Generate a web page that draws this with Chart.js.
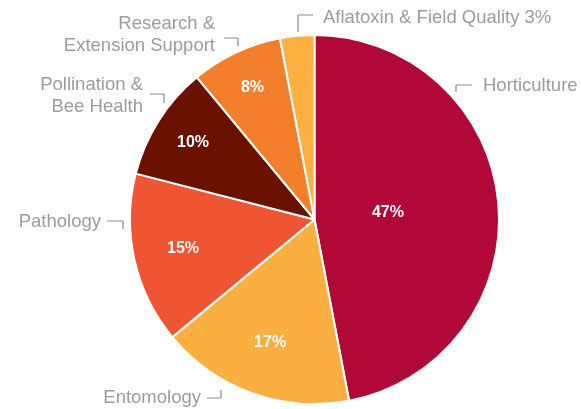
<!DOCTYPE html>
<html>
<head>
<meta charset="utf-8">
<script src="https://cdn.jsdelivr.net/npm/chart.js@4"></script>
<style>
  html, body { margin: 0; padding: 0; background: #fff; }
  #wrap { width: 581px; height: 409px; position: relative; }
</style>
</head>
<body>
<div id="wrap"><canvas id="chartPie"></canvas></div>
<script>
// data
const categories = ['Horticulture', 'Entomology', 'Pathology', 'Pollination & Bee Health', 'Research & Extension Support', 'Aflatoxin & Field Quality'];
const shares = [47, 17, 15, 10, 8, 3];

// style
const sliceColors = ['#B10838', '#FAAF40', '#EF5433', '#6A1100', '#F37F2C', '#FBB040'];
// outside label lines (split text), inner label radius factor
const outsideText = [['Horticulture'], ['Entomology'], ['Pathology'], ['Pollination &', 'Bee Health'], ['Research &', 'Extension Support'], ['Aflatoxin & Field Quality 3%']];
const innerRadius = [0.40, 0.71, 0.73, 0.78, 0.79, null];
// leader hooks next to the outside labels
const leaders = [
    { tx: 483, ty: 86, align: 'left', x0: 456, x1: 472, y: 85, y2: 92, side: 'left' },
    { tx: 201, ty: 398, align: 'right', x0: 207, x1: 221, y: 398, y2: 390, side: 'right' },
    { tx: 101, ty: 222, align: 'right', x0: 107, x1: 123, y: 221, y2: 229, side: 'right' },
    { tx: 143, ty: 85, align: 'right', x0: 150, x1: 164, y: 94, y2: 103, side: 'right' },
    { tx: 215, ty: 24, align: 'right', x0: 224, x1: 238, y: 38, y2: 46, side: 'right' },
    { tx: 323, ty: 18, align: 'left', x0: 298, x1: 313, y: 15, y2: 32, side: 'left' }
];

const pieLabels = {
    id: 'pieLabels',
    afterDatasetsDraw(chart) {
        const ctx = chart.ctx;
        const meta = chart.getDatasetMeta(0);
        ctx.save();
        // inner percentages
        ctx.fillStyle = '#fff';
        ctx.font = 'bold 16px "Liberation Sans", Arial, sans-serif';
        ctx.textAlign = 'center';
        ctx.textBaseline = 'middle';
        meta.data.forEach((arc, i) => {
            if (innerRadius[i] == null) return;
            const p = arc.getProps(['x', 'y', 'startAngle', 'endAngle', 'outerRadius']);
            const a = (p.startAngle + p.endAngle) / 2;
            const r = p.outerRadius * innerRadius[i];
            ctx.fillText(shares[i] + '%', p.x + Math.cos(a) * r, p.y + Math.sin(a) * r);
        });
        // outside names + leader hooks
        ctx.font = '18.5px "Liberation Sans", Arial, sans-serif';
        ctx.fillStyle = '#9C9C9C';
        ctx.strokeStyle = '#8A8A8A';
        ctx.lineWidth = 1.2;
        leaders.forEach((l, i) => {
            const lines = outsideText[i];
            ctx.textAlign = l.align;
            lines.forEach((t, k) => {
                ctx.fillText(t, l.tx, l.ty + k * 22);
            });
            const hx = l.side === 'left' ? l.x0 : l.x1;
            ctx.beginPath();
            ctx.moveTo(l.x0, l.y);
            ctx.lineTo(l.x1, l.y);
            ctx.moveTo(hx, l.y);
            ctx.lineTo(hx, l.y2);
            ctx.stroke();
        });
        ctx.restore();
    }
};

new Chart(document.getElementById('chartPie'), {
    type: 'pie',
    data: {
        labels: categories,
        datasets: [{
            data: shares,
            backgroundColor: sliceColors,
            borderColor: '#fff',
            borderWidth: 2
        }]
    },
    options: {
        responsive: true,
        maintainAspectRatio: false,
        animation: false,
        layout: { padding: { top: 34, bottom: 4, left: 128, right: 80 } },
        plugins: {
            legend: { display: false },
            tooltip: { enabled: false }
        }
    },
    plugins: [pieLabels]
});
</script>
</body>
</html>
